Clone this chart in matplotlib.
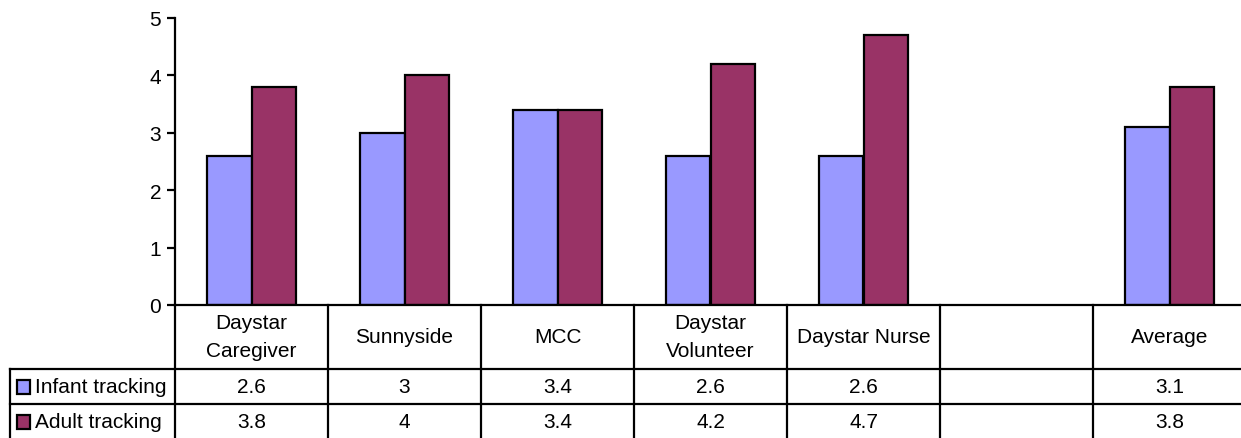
import numpy as np
import matplotlib
matplotlib.use("Agg")
import matplotlib.pyplot as plt
from matplotlib.lines import Line2D
from matplotlib.patches import Rectangle
from matplotlib.transforms import blended_transform_factory

categories = ["Daystar\nCaregiver", "Sunnyside", "MCC", "Daystar\nVolunteer",
              "Daystar Nurse", "", "Average"]
infant = [2.6, 3, 3.4, 2.6, 2.6, np.nan, 3.1]
adult = [3.8, 4, 3.4, 4.2, 4.7, np.nan, 3.8]
series_names = ["Infant tracking", "Adult tracking"]
colors = ["#9999FF", "#993366"]

plt.rcParams["font.family"] = ["Liberation Sans", "DejaVu Sans"]
FS = 15
LW = 1.6

W, H = 1241, 439
fig = plt.figure(figsize=(W / 100, H / 100), dpi=100)

# pixel helpers (measured from the top-left corner)
def fx(px):
    return px / W

def fy(py):
    return 1 - py / H

y_zero, y_top = 306, 19
x_left, x_right = 175, 1246
ax = fig.add_axes([fx(x_left), fy(y_zero), fx(x_right) - fx(x_left), fy(y_top) - fy(y_zero)])

x = np.arange(len(categories))
bw = 0.288
ax.bar(x - bw / 2, infant, bw, color=colors[0], edgecolor="black", linewidth=LW)
ax.bar(x + bw / 2, adult, bw, color=colors[1], edgecolor="black", linewidth=LW)

ax.set_xlim(-0.5, len(categories) - 0.5)
ax.set_ylim(0, 5)
ax.set_yticks(range(6))
ax.set_xticks([])
ax.tick_params(axis="y", labelsize=FS, length=6, width=LW, direction="out", pad=4)
for s in ["top", "right"]:
    ax.spines[s].set_visible(False)
ax.spines["left"].set_linewidth(LW)
ax.spines["bottom"].set_linewidth(LW)

# data table under the axis
tr = blended_transform_factory(ax.transData, fig.transFigure)
row_y = [306, 370, 405, 440]

def hline(py, x0, x1):
    fig.add_artist(Line2D([fx(x0), fx(x1)], [fy(py), fy(py)], color="black",
                          lw=LW, transform=fig.transFigure))

hline(row_y[1], 10, W)
hline(row_y[2], 10, W)
fig.add_artist(Line2D([fx(10), fx(10)], [fy(row_y[1]), fy(row_y[3])], color="black",
                      lw=LW, transform=fig.transFigure))
for i in range(len(categories)):
    fig.add_artist(Line2D([i - 0.5, i - 0.5], [fy(row_y[0]), fy(row_y[3])], color="black",
                          lw=LW, transform=tr))

cat_mid = fy((row_y[0] + row_y[1]) / 2)
inf_mid = fy((row_y[1] + row_y[2]) / 2)
adu_mid = fy((row_y[2] + row_y[3]) / 2)
for i, lab in enumerate(categories):
    fig.text(i, cat_mid, lab, transform=tr, ha="center", va="center", fontsize=FS,
             linespacing=1.6)
    for vals, ym in [(infant, inf_mid), (adult, adu_mid)]:
        if not np.isnan(vals[i]):
            fig.text(i, ym, f"{vals[i]:g}", transform=tr, ha="center", va="center",
                     fontsize=FS)

# legend keys in the row headers
for name, col, ym in zip(series_names, colors, [inf_mid, adu_mid]):
    fig.add_artist(Rectangle((fx(17), ym - 7 / H), 13 / W, 14 / H, facecolor=col,
                             edgecolor="black", lw=LW, transform=fig.transFigure))
    fig.text(fx(35), ym, name, ha="left", va="center", fontsize=FS)

fig.savefig("out.png", dpi=100)
